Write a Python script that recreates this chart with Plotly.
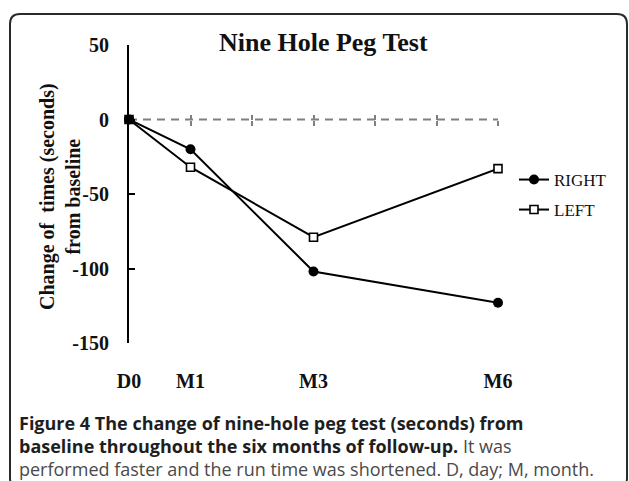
import plotly.graph_objects as go

# ---- data ----
months = [0, 1, 3, 6]
tick_labels = ["D0", "M1", "M3", "M6"]
right = [0, -20, -102, -123]
left = [0, -32, -79, -33]
y_ticks = [-150, -100, -50, 0, 50]
y_tick_labels = ["-150", "-100", "-50", "0", "50"]
grid_ticks = [1, 2, 3, 4, 5, 6]

W, H = 629, 481
L, R, T, B = 129, 131, 45, 138
PW, PH = W - L - R, H - T - B


def px(xp):
    return (xp - L) / PW


def py(yp):
    return (H - B - yp) / PH


SERIF = "Liberation Serif, Times New Roman, serif"
SANS = "Open Sans, Noto Sans, sans-serif"

fig = go.Figure()

# LEFT series (square markers; the shared baseline point is solid)
fig.add_trace(go.Scatter(
    x=months, y=left, name="LEFT", mode="lines+markers",
    line=dict(color="black", width=2),
    marker=dict(symbol="square", size=8,
                color=["black"] + ["white"] * (len(months) - 1),
                line=dict(color="black", width=1.6)),
    cliponaxis=False, showlegend=False))

fig.add_trace(go.Scatter(
    x=months, y=right, name="RIGHT", mode="lines+markers",
    line=dict(color="black", width=2),
    marker=dict(symbol="circle", size=10, color="black"),
    cliponaxis=False, legend="legend"))

# legend entry for LEFT (open square)
fig.add_trace(go.Scatter(
    x=[None], y=[None], name="LEFT", mode="lines+markers",
    line=dict(color="black", width=2),
    marker=dict(symbol="square", size=8, color="white", line=dict(color="black", width=1.6)),
    legend="legend2"))

# dashed zero reference line
fig.add_shape(type="line", xref="x", yref="y", x0=months[0], x1=months[-1], y0=0, y1=0,
              line=dict(color="#7f7f7f", width=2, dash="8px,6px"), layer="below")

zero_pos = (0 - y_ticks[0]) / (y_ticks[-1] - y_ticks[0])

fig.update_layout(
    width=W, height=H,
    margin=dict(l=L, r=R, t=T, b=B),
    paper_bgcolor="white", plot_bgcolor="white",
    title=dict(text="<b>Nine Hole Peg Test</b>", x=0.514, xref="container", xanchor="center",
               y=1 - 42 / H, yref="container", yanchor="middle",
               font=dict(family=SERIF, size=26, color="#111")),
    xaxis=dict(range=[months[0], months[-1]], tickvals=months, ticktext=tick_labels,
               showline=False, showgrid=False, zeroline=False, ticks="",
               ticklabelstandoff=24,
               tickfont=dict(family=SERIF, size=20, color="#111", weight="bold")),
    xaxis2=dict(overlaying="x", matches="x", anchor="free", position=zero_pos,
                tickvals=grid_ticks, showticklabels=False, ticks="outside", ticklen=5,
                tickwidth=2, tickcolor="#7f7f7f", showline=False, showgrid=False, zeroline=False),
    xaxis3=dict(overlaying="x", matches="x", anchor="free", position=zero_pos,
                tickvals=grid_ticks, showticklabels=False, ticks="inside", ticklen=5,
                tickwidth=2, tickcolor="#7f7f7f", showline=False, showgrid=False, zeroline=False),
    yaxis=dict(range=[y_ticks[0], y_ticks[-1]], tickvals=y_ticks, ticktext=y_tick_labels,
               showline=True, linecolor="black", linewidth=2, ticks="inside", ticklen=6,
               tickwidth=2, tickcolor="black", showgrid=False, zeroline=False,
               ticklabelstandoff=14,
               tickfont=dict(family=SERIF, size=20, color="#111", weight="bold")),
    showlegend=True,
    legend=dict(x=px(514), y=py(180), xanchor="left", yanchor="middle",
                font=dict(family=SERIF, size=17, color="#111"), bgcolor="rgba(0,0,0,0)"),
    legend2=dict(x=px(514), y=py(210), xanchor="left", yanchor="middle",
                 font=dict(family=SERIF, size=17, color="#111"), bgcolor="rgba(0,0,0,0)"),
)

# invisible traces to activate overlay axes
fig.add_trace(go.Scatter(x=[months[0]], y=[0], xaxis="x2", mode="none", showlegend=False, hoverinfo="skip"))
fig.add_trace(go.Scatter(x=[months[0]], y=[0], xaxis="x3", mode="none", showlegend=False, hoverinfo="skip"))

# y-axis title (two lines)
fig.add_annotation(xref="paper", yref="paper", x=px(60), y=py(197), textangle=-90,
                   text="<b>Change of\u00a0 times (seconds)<br>from baseline</b>",
                   showarrow=False, xanchor="center", yanchor="middle",
                   font=dict(family=SERIF, size=20, color="#111"))

# caption
cap_lines = [
    ("<b>Figure 4 The change of nine-hole peg test (seconds) from</b>", 423),
    ("<b>baseline throughout the six months of follow-up.</b><span style='color:#4a4a4a'> It was</span>", 446),
    ("<span style='color:#4a4a4a'>performed faster and the run time was shortened. D, day; M, month.</span>", 469),
]
for txt, yy in cap_lines:
    fig.add_annotation(xref="paper", yref="paper", x=px(17), y=py(yy), text=txt,
                       showarrow=False, xanchor="left", yanchor="middle", align="left",
                       font=dict(family=SANS, size=18, color="#1e1e1e"))


# rounded frame
def frame_path(x0, y0, x1, y1, r):
    pts = []
    pts.append(f"M {px(x0)},{py(y0 + r)}")
    pts.append(f"Q {px(x0)},{py(y0)} {px(x0 + r)},{py(y0)}")
    pts.append(f"L {px(x1 - r)},{py(y0)}")
    pts.append(f"Q {px(x1)},{py(y0)} {px(x1)},{py(y0 + r)}")
    pts.append(f"L {px(x1)},{py(y1 - r)}")
    pts.append(f"Q {px(x1)},{py(y1)} {px(x1 - r)},{py(y1)}")
    pts.append(f"L {px(x0 + r)},{py(y1)}")
    pts.append(f"Q {px(x0)},{py(y1)} {px(x0)},{py(y1 - r)}")
    pts.append("Z")
    return " ".join(pts)


fig.add_shape(type="path", xref="paper", yref="paper", path=frame_path(10, 14, 627, 488, 10),
              line=dict(color="#2a2a2a", width=2), fillcolor="rgba(0,0,0,0)")

fig.write_html("out.html", config={"displayModeBar": False},
               post_script="document.body.style.margin='0';document.body.style.overflow='hidden';")
